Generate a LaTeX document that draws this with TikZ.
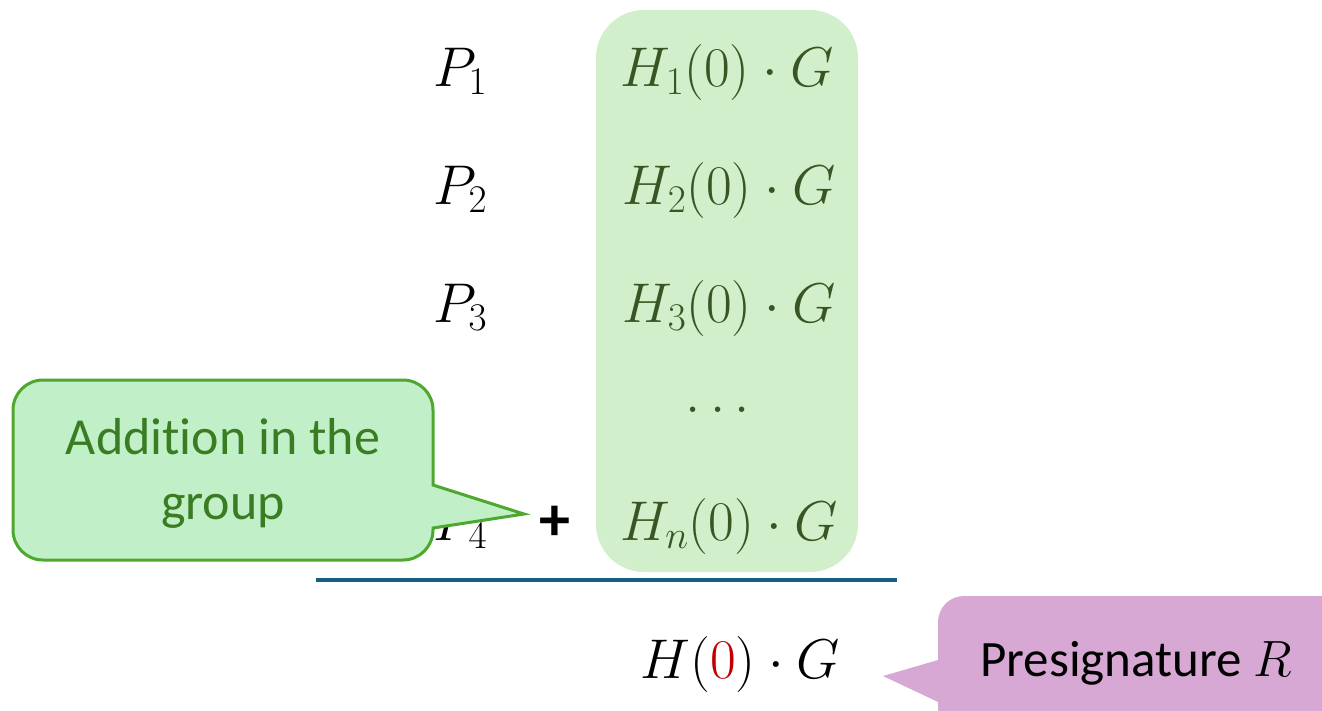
\RequirePackage{fix-cm}
\documentclass[tikz,border=0pt]{standalone}
\usepackage{fontspec}
\setsansfont{Carlito}[Ligatures=NoCommon]
\definecolor{boxg}{HTML}{D1EFCA}
\definecolor{mathg}{HTML}{375623}
\definecolor{callg}{HTML}{C1F0C8}
\definecolor{callgb}{HTML}{4EA72E}
\definecolor{callgt}{HTML}{3A7C22}
\definecolor{lineb}{HTML}{156082}
\definecolor{purp}{HTML}{D8A8D4}
\definecolor{redz}{HTML}{C00000}
\begin{document}
\begin{tikzpicture}[x=1pt,y=-1pt,
  mtxt/.style={anchor=base, inner sep=0pt, font=\fontsize{56}{67}\selectfont},
  gtxt/.style={mtxt, text=mathg},
  ctxt/.style={inner sep=0pt, font=\sffamily\fontsize{52}{65}\selectfont, align=center}]
\useasboundingbox (0,0) rectangle (1322,710);
% green column box
\fill[boxg, rounded corners=48] (596,10) rectangle (858,572);
% P column
\node[mtxt, anchor=base west] (p1) at (433,86) {$P_1$};
\node[mtxt, anchor=base west] (p2) at (433,204) {$P_2$};
\node[mtxt, anchor=base west] (p3) at (433,322) {$P_3$};
\node[mtxt, anchor=base west] (p4) at (433,540) {$P_4$};
% H column
\node[gtxt] (h1) at (727,86) {$H_1(0)\cdot G$};
\node[gtxt] (h2) at (729,204) {$H_2(0)\cdot G$};
\node[gtxt] (h3) at (729,322) {$H_3(0)\cdot G$};
\node[gtxt] (hd) at (718,412) {$\ldots$};
\node[gtxt] (hn) at (729,540) {$H_n(0)\cdot G$};
% plus
\node[inner sep=0pt, font=\sffamily\bfseries\fontsize{62}{70}\selectfont] (plus) at (555,523) {+};
% sum line
\coordinate (la) at (316,580);
\coordinate (lb) at (897,580);
\draw[lineb, line width=4] (la) -- (lb);
% result
\node[mtxt] (res) at (740,678) {$H(\textcolor{redz}{0})\cdot G$};
% green callout
\draw[callgb, fill=callg, line width=3]
  (433,485) [rounded corners=30] -- (433,380) -- (13,380) -- (13,560) -- (433,560)
  [sharp corners] -- (433,528) -- (524,514) -- cycle;
\node[ctxt, text=callgt] (addn) at (223,473) {Addition in the\\group};
% purple callout
\fill[purp, rounded corners=26] (938,596) rectangle (1360,740);
\fill[purp] (938,660) -- (883,676) -- (938,702) -- cycle;
\node[anchor=base, inner sep=0pt, font=\sffamily\fontsize{51}{60}\selectfont] (presig) at (1136,676) {Presignature $R$};
\end{tikzpicture}
\end{document}
